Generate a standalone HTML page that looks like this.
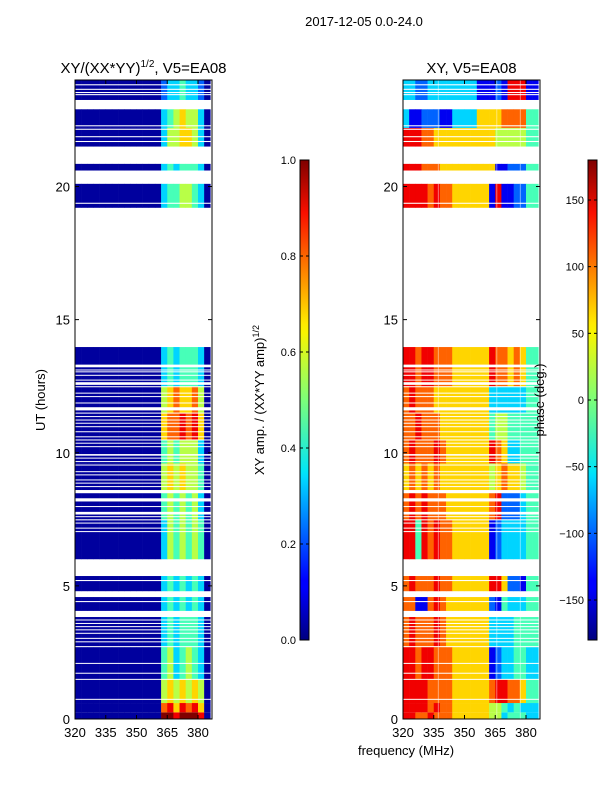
<!DOCTYPE html>
<html><head><meta charset="utf-8"><style>
body{margin:0;background:#fff;}
svg text{font-family:"Liberation Sans","DejaVu Sans",sans-serif;fill:#000;}
</style></head><body>
<svg id="fig" width="600" height="800" xmlns="http://www.w3.org/2000/svg">
<defs>
<linearGradient id="jetv" x1="0" y1="1" x2="0" y2="0">
<stop offset="0" stop-color="#00007f"/><stop offset="0.11" stop-color="#0000ff"/><stop offset="0.125" stop-color="#0000ff"/>
<stop offset="0.34" stop-color="#00dbff"/><stop offset="0.35" stop-color="#00e5f8"/><stop offset="0.5" stop-color="#7cff79"/>
<stop offset="0.64" stop-color="#f8f500"/><stop offset="0.66" stop-color="#ffea00"/><stop offset="0.89" stop-color="#fa0f00"/><stop offset="1" stop-color="#7f0000"/>
</linearGradient>
</defs>
<text x="364" y="26" font-size="13" text-anchor="middle">2017-12-05 0.0-24.0</text>
<g id="left"></g>
<g id="right"></g>
<g id="cbars"></g>
</svg>
<script>
const NS="http://www.w3.org/2000/svg";
// ---- data ----
const blockStart=[0,0.25,0.6,1.5,2.7,4.06,4.8,6.0,7.5,8.6,9.6,10.5,11.5,12.5,19.2,20.6,21.5,22.2,23.25];
const blockEnd=[0.25,0.6,1.5,2.7,3.83,4.58,5.37,7.5,8.6,9.6,10.5,11.5,12.5,13.97,20.1,20.85,22.2,22.9,24];
const ampRows=["99899980","78687860","56565650","45345430","34344430","34343430","34343430","35454540","45454530","56565540","45455530","67787860","56766750","34344430","34455430","34344430","35566530","34565530","23343320"];
const phaseRows=["8877877766666655344433","8888787766666655434333","8888777766666678877644","8878877766666612334433","7877787666666633334444","7711787666666621433344","7877787766666688622144","8848787766666612333344","7878777666666678222344","6767676666666656766544","7877787666666687633444","7787776666666645544444","7877766666666633333344","8878877766666687767644","8888787766666618112244","8887776666666661122244","8887766666666665555544","3112221133336666777744","3322333333331112188811"];
const gapHours=[13.26,13.11,13.04,12.91,12.73,12.6,12.48,12.24,12.11,11.87,11.65,11.49,11.36,11.23,11.11,10.98,10.79,10.6,10.48,10.36,10.23,9.92,9.8,9.67,9.54,9.29,9.17,8.98,8.86,8.73,8.54,8.23,7.98,7.73,7.6,7.48,7.36,7.17,7.04,3.72,3.59,3.47,3.35,3.22,3.03,2.9,2.72,2.09,1.72,1.49,0.74,5.2,4.41,23.82,23.65,23.53,23.45,22.28,22.15,21.87,21.69,19.37];
const gapWidths=[0.1,0.035,0.035,0.035,0.035,0.1,0.035,0.035,0.035,0.035,0.12,0.035,0.035,0.035,0.035,0.035,0.035,0.035,0.035,0.035,0.035,0.06,0.035,0.035,0.035,0.035,0.035,0.035,0.035,0.035,0.12,0.12,0.035,0.1,0.035,0.035,0.035,0.035,0.035,0.035,0.035,0.035,0.035,0.035,0.035,0.035,0.035,0.035,0.035,0.035,0.035,0.04,0.04,0.04,0.04,0.04,0.04,0.04,0.04,0.04,0.04,0.04];
const bandStart=320, bandWidth=3, nBands=22;
const xTicks=[320,335,350,365,380];
const yTicks=[0,5,10,15,20];
const ampTicks=[0,0.2,0.4,0.6,0.8,1.0];
const phaseTicks=[-150,-100,-50,0,50,100,150];
const phaseFlagFreqs=[337,365.5,377];

// ---- scales ----
const panelL=[75,212], panelR=[403,540], yTop=80, yBot=719;
function yScale(h){return yBot-(h/24)*(yBot-yTop);}
function xScale(f,p){return p[0]+(f-320)*(198-75)/60;}
function jet(v){v=Math.max(0,Math.min(1,v));
 const r=Math.max(0,Math.min(1,1.5-Math.abs(4*v-3))),g=Math.max(0,Math.min(1,1.5-Math.abs(4*v-2))),b=Math.max(0,Math.min(1,1.5-Math.abs(4*v-1)));
 return `rgb(${Math.round(r*255)},${Math.round(g*255)},${Math.round(b*255)})`;}
function mk(tag,attrs,parent){const e=document.createElementNS(NS,tag);for(const k in attrs)e.setAttribute(k,attrs[k]);parent.appendChild(e);return e;}
function txt(s,attrs,parent){const e=mk('text',attrs,parent);e.textContent=s;return e;}

function panel(g,p,valFn,title,flags){
 for(let i=0;i<blockStart.length;i++){
  const y1=yScale(blockEnd[i]),y2=yScale(blockStart[i]);
  for(let b=0;b<nBands;b++){
   const f0=bandStart+b*bandWidth;
   const x1=xScale(f0,p),x2=Math.min(xScale(f0+bandWidth,p),p[1]);
   const r=mk('rect',{x:x1,y:y1,width:x2-x1+0.3,height:y2-y1,fill:jet(valFn(i,b))},g);
   
   
  }
  flags.forEach(f=>{const x=xScale(f,p);
   const l=mk('rect',{x:x,y:y1,width:1,height:y2-y1,fill:'#fff',opacity:0.45},g);
   
   });
 }
 for(let i=0;i<gapHours.length;i++){
  const y=yScale(gapHours[i]+gapWidths[i]/2),hh=yScale(gapHours[i]-gapWidths[i]/2)-y;
  const r=mk('rect',{x:p[0],y:y,width:p[1]-p[0],height:Math.max(1,hh),fill:'#fff'},g);
  
  
 }
 const fr=mk('rect',{x:p[0],y:yTop,width:p[1]-p[0],height:yBot-yTop,fill:'none',stroke:'#000','stroke-width':1},g);
 
 
 xTicks.forEach(t=>{const x=xScale(t,p);
  mk('line',{x1:x,x2:x,y1:yBot,y2:yBot-4,stroke:'#000'},g);mk('line',{x1:x,x2:x,y1:yTop,y2:yTop+4,stroke:'#000'},g);
  const l=txt(String(t),{x:x,y:yBot+18,'font-size':13,'text-anchor':'middle'},g);
  
  });
 yTicks.forEach(t=>{const y=yScale(t);
  mk('line',{x1:p[0],x2:p[0]+4,y1:y,y2:y,stroke:'#000'},g);mk('line',{x1:p[1],x2:p[1]-4,y1:y,y2:y,stroke:'#000'},g);
  const l=txt(String(t),{x:p[0]-5,y:y+5,'font-size':13,'text-anchor':'end'},g);
  
  });
 const tt=txt('',{x:(p[0]+p[1])/2,y:73,'font-size':15,'text-anchor':'middle'},g);
 tt.innerHTML=title;
 
 
}
const L=document.getElementById('left'),R=document.getElementById('right');
panel(L,panelL,(i,b)=> b<14?0.03:(b>=21?0.03:(+ampRows[i][b-14])/9),'XY/(XX*YY)<tspan font-size="10" dy="-6">1/2</tspan><tspan dy="6">, V5=EA08</tspan>',[]);
panel(R,panelR,(i,b)=>(+phaseRows[i][b])/9,'XY, V5=EA08',phaseFlagFreqs);
const yl=txt('UT (hours)',{x:45,y:400,'font-size':13,'text-anchor':'middle',transform:'rotate(-90 45 400)'},L);

const xl=txt('frequency (MHz)',{x:406,y:755,'font-size':13,'text-anchor':'middle'},R);


// colorbars
const C=document.getElementById('cbars');
function cbar(x,ticks,lo,hi,label,lx,name){
 const g=mk('g',{},C);
 
 
 mk('rect',{x:x,y:160,width:9,height:480,fill:'url(#jetv)',stroke:'#000','stroke-width':1},g);
 ticks.forEach(t=>{const y=640-(t-lo)/(hi-lo)*480;
  mk('line',{x1:x,x2:x+3,y1:y,y2:y,stroke:'#000'},g);mk('line',{x1:x+9,x2:x+6,y1:y,y2:y,stroke:'#000'},g);
  const l=txt(Number.isInteger(t)&&hi>10?String(t).replace('-','\u2212'):t.toFixed(1),{x:x-4,y:y+4,'font-size':11,'text-anchor':'end'},g);
  
  });
 const t=txt('',{x:lx,y:400,'font-size':13,'text-anchor':'middle',transform:`rotate(-90 ${lx} 400)`},g);
 t.innerHTML=label;
 
 
}
cbar(300,ampTicks,0,1,'XY amp. / (XX*YY amp)<tspan font-size="9" dy="-5">1/2</tspan>',264,'amplitude-colorbar');
cbar(588,phaseTicks,-180,180,'phase (deg.)',544,'phase-colorbar');
</script>
</body></html>
